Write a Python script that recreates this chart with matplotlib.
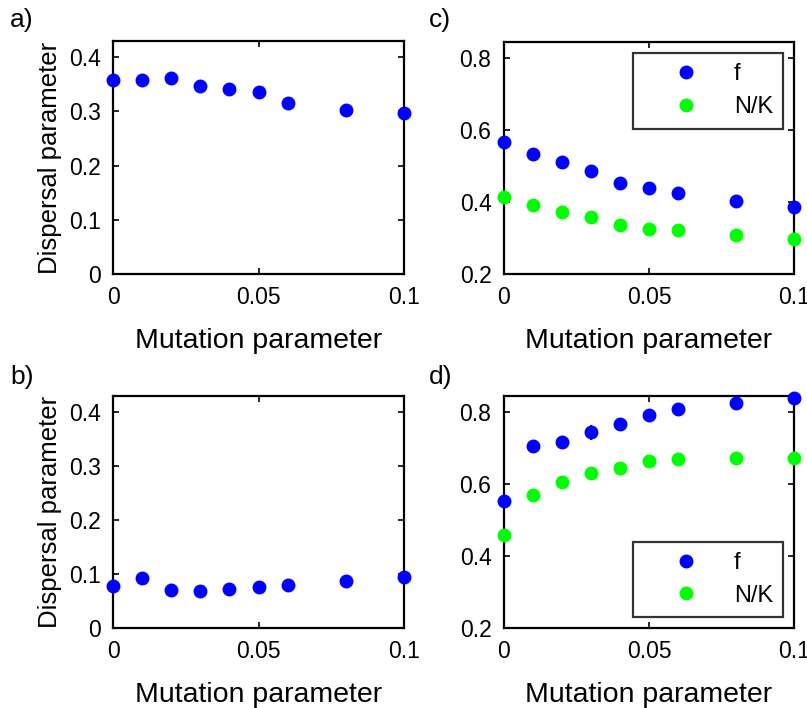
import matplotlib.pyplot as plt
from matplotlib.lines import Line2D

plt.rcParams['font.family'] = ['Liberation Sans', 'DejaVu Sans']

mutation = [0, 0.01, 0.02, 0.03, 0.04, 0.05, 0.06, 0.08, 0.1]

# panel a / b: dispersal parameter
disp_a = [0.358, 0.358, 0.361, 0.347, 0.341, 0.335, 0.316, 0.302, 0.298]
err_a = [0.004, 0.008, 0.006, 0.004, 0.003, 0.007, 0.003, 0.002, 0.002]
disp_b = [0.078, 0.092, 0.071, 0.069, 0.073, 0.076, 0.080, 0.088, 0.095]
err_b = [0.004, 0.003, 0.003, 0.003, 0.003, 0.003, 0.003, 0.002, 0.002]

# panel c / d: f and N/K
f_c = [0.566, 0.535, 0.510, 0.485, 0.453, 0.439, 0.424, 0.404, 0.386]
f_c_err = [0.005, 0.004, 0.004, 0.007, 0.012, 0.004, 0.004, 0.003, 0.003]
nk_c = [0.415, 0.391, 0.373, 0.359, 0.335, 0.326, 0.321, 0.309, 0.296]
f_d = [0.552, 0.705, 0.716, 0.744, 0.767, 0.793, 0.809, 0.825, 0.840]
f_d_err = [0.005, 0.005, 0.005, 0.020, 0.005, 0.005, 0.004, 0.004, 0.003]
nk_d = [0.459, 0.569, 0.606, 0.631, 0.646, 0.663, 0.669, 0.673, 0.674]

BLUE = '#0000ff'
GREEN = '#00ff00'
MS = 9

fig = plt.figure(figsize=(8.07, 7.08), dpi=100)
W, H = 807, 708

def make_ax(l, r, t, b):
    return fig.add_axes([l / W, 1 - b / H, (r - l) / W, (b - t) / H])

ax_a = make_ax(113, 404, 41, 274)
ax_c = make_ax(504, 794, 42, 274)
ax_b = make_ax(113, 404, 396, 628)
ax_d = make_ax(504, 794, 396, 628)

def style(ax, ylim, yticks):
    ax.set_xlim(0, 0.1)
    ax.set_ylim(*ylim)
    ax.set_xticks([0, 0.05, 0.1])
    ax.set_xticklabels(['0', '0.05', '0.1'])
    ax.set_yticks(yticks)
    ax.set_yticklabels([('%g' % v) for v in yticks])
    ax.tick_params(direction='in', top=True, right=True, length=4, width=1.2,
                   labelsize=16.5, pad=9)
    for s in ax.spines.values():
        s.set_linewidth(1.6)
    ax.set_xlabel('Mutation parameter', fontsize=20.5, labelpad=13)

for ax, y, e in [(ax_a, disp_a, err_a), (ax_b, disp_b, err_b)]:
    ax.errorbar(mutation, y, yerr=e, fmt='o', color=BLUE, ms=MS, elinewidth=1.5,
                capsize=0, clip_on=False, zorder=3)
    style(ax, (0, 0.43), [0, 0.1, 0.2, 0.3, 0.4])
    ax.set_ylabel('Dispersal parameter', fontsize=18.5, labelpad=5)

handles = [Line2D([], [], ls='none', marker='o', color=BLUE, ms=MS, label='f'),
           Line2D([], [], ls='none', marker='o', color=GREEN, ms=MS, label='N/K')]

for ax, f, fe, nk, loc in [(ax_c, f_c, f_c_err, nk_c, 'upper right'),
                           (ax_d, f_d, f_d_err, nk_d, 'lower right')]:
    ax.errorbar(mutation, f, yerr=fe, fmt='o', color=BLUE, ms=MS, elinewidth=1.5,
                capsize=0, clip_on=False, zorder=3)
    ax.errorbar(mutation, nk, yerr=[0.003] * len(nk), fmt='o', color=GREEN, ms=MS,
                elinewidth=1.5, capsize=0, clip_on=False, zorder=3)
    style(ax, (0.2, 0.845), [0.2, 0.4, 0.6, 0.8])
    leg = ax.legend(handles=handles, loc=loc, fontsize=17, frameon=True,
                    fancybox=False, edgecolor='black', handletextpad=0.2,
                    borderpad=0.45, labelspacing=0.45, handlelength=3.6,
                    borderaxespad=0.45, markerscale=1.0)
    leg.get_frame().set_linewidth(1.6)

fig.text(10 / W, 1 - 20 / H, 'a)', fontsize=19, va='center')
fig.text(10 / W, 1 - 377 / H, 'b)', fontsize=19, va='center')
fig.text(429 / W, 1 - 20 / H, 'c)', fontsize=19, va='center')
fig.text(429 / W, 1 - 377 / H, 'd)', fontsize=19, va='center')

fig.savefig('out.png', dpi=100)
